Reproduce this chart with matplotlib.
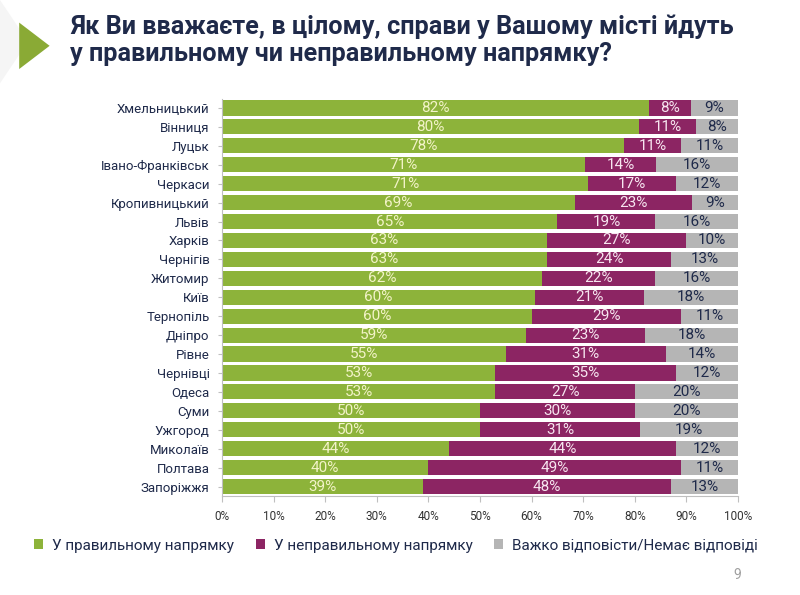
"""Stacked 100% bar chart: direction of affairs in Ukrainian cities."""

import matplotlib

matplotlib.use("Agg")

import numpy as np  # noqa: E402
from matplotlib import pyplot as plt  # noqa: E402
from matplotlib.patches import Polygon  # noqa: E402

plt.rcParams["font.family"] = ["Roboto", "DejaVu Sans"]

CITIES = [
    "Хмельницький", "Вінниця", "Луцьк", "Івано-Франківськ", "Черкаси",
    "Кропивницький", "Львів", "Харків", "Чернігів", "Житомир", "Київ",
    "Тернопіль", "Дніпро", "Рівне", "Чернівці", "Одеса", "Суми", "Ужгород",
    "Миколаїв", "Полтава", "Запоріжжя",
]
RIGHT = [82, 80, 78, 71, 71, 69, 65, 63, 63, 62, 60, 60, 59, 55, 53, 53, 50, 50, 44, 40, 39]
WRONG = [8, 11, 11, 14, 17, 23, 19, 27, 24, 22, 21, 29, 23, 31, 35, 27, 30, 31, 44, 49, 48]
HARD = [9, 8, 11, 16, 12, 9, 16, 10, 13, 16, 18, 11, 18, 14, 12, 20, 20, 19, 12, 11, 13]
SERIES_NAMES = [
    "У правильному напрямку",
    "У неправильному напрямку",
    "Важко відповісти/Немає відповіді",
]
X_TICKS = [0, 10, 20, 30, 40, 50, 60, 70, 80, 90, 100]

COLORS = ["#8db33a", "#8c2563", "#b5b5b5"]
LABEL_COLORS = ["#f3f3c8", "#f7e6f0", "#1f2a4a"]
NAVY = "#1f2a4a"

fig = plt.figure(figsize=(8.0, 5.95), dpi=100)
fig.patch.set_facecolor("white")

# decorative triangles at the top left
fig.patches.append(Polygon([(0.0, 1.0), (0.035, 0.93), (0.0, 0.86)], closed=True,
                           transform=fig.transFigure, facecolor="#f5f5f5", edgecolor="none"))
fig.patches.append(Polygon([(0.024, 0.962), (0.062, 0.923), (0.024, 0.884)], closed=True,
                           transform=fig.transFigure, facecolor="#8aaa35", edgecolor="none"))

fig.text(0.088, 0.933, "Як Ви вважаєте, в цілому, справи у Вашому місті йдуть\n"
         "у правильному чи неправильному напрямку?",
         fontsize=18.2, fontweight="bold", color=NAVY, va="center", ha="left",
         linespacing=1.15)

ax = fig.add_axes([0.2775, 0.1664, 0.645, 0.668])

data = np.array([RIGHT, WRONG, HARD], dtype=float)
shares = data / data.sum(axis=0) * 100
y = np.arange(len(CITIES))
left = np.zeros(len(CITIES))
for i, name in enumerate(SERIES_NAMES):
    bars = ax.barh(y, shares[i], left=left, height=0.8, color=COLORS[i],
                   label=name, edgecolor="none")
    for bar, raw in zip(bars, data[i]):
        ax.text(bar.get_x() + bar.get_width() / 2, bar.get_y() + bar.get_height() / 2,
                f"{int(raw)}%", ha="center", va="center", fontsize=11,
                color=LABEL_COLORS[i])
    left += shares[i]

ax.set_ylim(len(CITIES) - 0.5, -0.5)
ax.set_xlim(0, 100)
ax.set_yticks(y)
ax.set_yticklabels(CITIES, fontsize=9.5, color=NAVY)
ax.set_xticks(X_TICKS)
ax.set_xticklabels([f"{t}%" for t in X_TICKS], fontsize=8.5, color="#333333")
for side in ("top", "right"):
    ax.spines[side].set_visible(False)
for side in ("left", "bottom"):
    ax.spines[side].set_color("#bfbfbf")
ax.tick_params(axis="x", length=4, color="#bfbfbf", pad=6)
ax.tick_params(axis="y", length=3, color="#bfbfbf", pad=6)

fig.legend(loc="center", bbox_to_anchor=(0.495, 0.083), ncol=3, frameon=False,
           handlelength=0.6, handleheight=0.6, handletextpad=0.6, columnspacing=1.4,
           prop={"size": 11}, labelcolor=NAVY)

fig.text(0.922, 0.033, "9", fontsize=10, color="#a0a0a0", ha="center", va="center")

fig.savefig("out.png", dpi=100)
plt.close(fig)
